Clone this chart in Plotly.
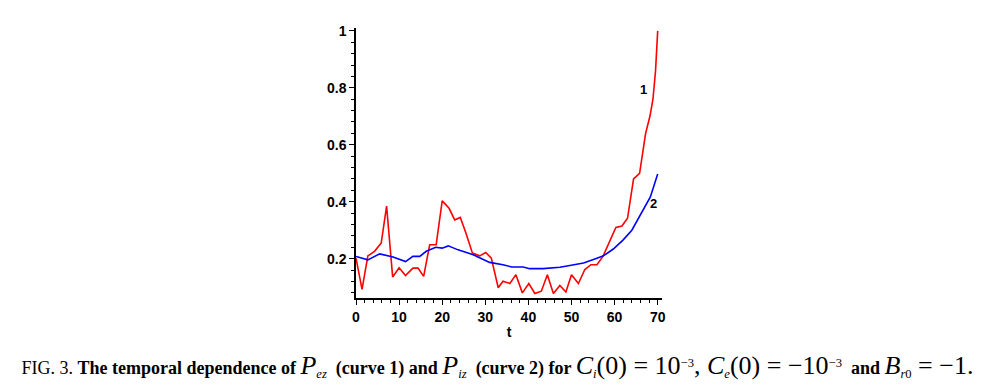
import plotly.graph_objects as go

red_t = [0, 1.4, 2.75, 4.3, 5.85, 7.1, 8.5, 10.0, 11.5, 13.2, 14.4, 15.7, 17.1, 18.6, 20.0,
         21.6, 22.9, 24.2, 25.5, 27.0, 28.7, 30.1, 31.4, 33.0, 34.1, 35.7, 37.1, 38.6,
         40.1, 41.5, 43.0, 44.4, 45.8, 47.3, 48.7, 50.0, 51.6, 53.1, 54.5, 55.9, 57.3,
         58.8, 60.3, 61.7, 63.0, 64.4, 65.8, 67.2, 68.2, 68.9, 69.5, 70.0]
red_v = [0.202, 0.092, 0.21, 0.226, 0.255, 0.385, 0.136, 0.168, 0.141, 0.167, 0.167, 0.138,
         0.249, 0.249, 0.403, 0.377, 0.336, 0.345, 0.29, 0.22, 0.21, 0.222, 0.202, 0.098,
         0.121, 0.113, 0.144, 0.08, 0.113, 0.078, 0.086, 0.144, 0.078, 0.106, 0.083, 0.144,
         0.113, 0.162, 0.179, 0.179, 0.208, 0.26, 0.31, 0.315, 0.342, 0.48, 0.50, 0.64,
         0.70, 0.76, 0.86, 1.0]

blue_t = [0, 2.75, 5.5, 8.6, 11.5, 13.2, 14.8, 16.3, 18.5, 20.0, 21.4, 23.7, 27.2, 31.0,
          34.1, 36.1, 38.8, 40.3, 43.4, 47.3, 49.6, 52.8, 55.9, 57.4, 59.7, 62.0, 64.0,
          66.0, 68.3, 70.0]
blue_v = [0.208, 0.196, 0.217, 0.206, 0.19, 0.208, 0.208, 0.226, 0.24, 0.237, 0.245, 0.231,
          0.214, 0.187, 0.179, 0.171, 0.171, 0.165, 0.165, 0.17, 0.176, 0.185, 0.202, 0.21,
          0.234, 0.266, 0.3, 0.353, 0.417, 0.497]

x_ticks = [0, 10, 20, 30, 40, 50, 60, 70]
y_ticks = [0.2, 0.4, 0.6, 0.8, 1]
y_tick_text = ["0.2", "0.4", "0.6", "0.8", "1"]

curve_labels = ["1", "2"]
label_t = [66.6, 69.1]
label_v = [0.795, 0.395]

fig = go.Figure()
fig.add_trace(go.Scatter(x=red_t, y=red_v, mode="lines",
                         line=dict(color="#ff0000", width=1.6), showlegend=False))
fig.add_trace(go.Scatter(x=blue_t, y=blue_v, mode="lines",
                         line=dict(color="#0000ff", width=1.6), showlegend=False))

for lab, tx, vy in zip(curve_labels, label_t, label_v):
    fig.add_annotation(x=tx, y=vy, text="<b>" + lab + "</b>", showarrow=False,
                       font=dict(family="Liberation Sans", size=13, color="black"))

M = "<span style='font-size:26px'>"
caption = ("FIG. 3. <b>The temporal dependence of </b>"
           + M + "<i>P</i></span><sub><i>ez</i></sub>"
           "<b>  (curve 1) and </b>"
           + M + "<i>P</i></span><sub><i>iz</i></sub>"
           "<b>  (curve 2) for </b>"
           + M + "<i>C</i></span><sub><i>i</i></sub>"
           + M + "(0) = 10</span><sup>−3</sup>"
           + M + ", </span>"
           + M + "<i>C</i></span><sub><i>e</i></sub>"
           + M + "(0) = −10</span><sup>−3</sup>"
           "<b>  and </b>"
           + M + "<i>B</i></span><sub><i>r</i>0</sub>"
           + M + " = −1.</span>")

fig.update_layout(
    width=987, height=388,
    margin=dict(l=356, r=325, t=28, b=90),
    paper_bgcolor="white", plot_bgcolor="white",
    title=dict(text=caption, x=0.504, xref="container", xanchor="center",
               y=0.052, yref="container", yanchor="middle", automargin=False,
               font=dict(family="Liberation Serif", size=18, color="black")),
    xaxis=dict(range=[0, 71], showgrid=False, zeroline=False, showline=True, automargin=False,
               linecolor="black", linewidth=1.5, ticks="outside", ticklen=5,
               tickcolor="black", tickvals=x_ticks,
               minor=dict(dtick=2, tick0=0, ticks="outside", ticklen=3, tickcolor="black"),
               tickfont=dict(family="Liberation Sans", size=14, color="black", weight="bold"),
               title=dict(text="<b>t</b>", standoff=4,
                          font=dict(family="Liberation Sans", size=14, color="black"))),
    yaxis=dict(range=[0.062, 1.01], showgrid=False, zeroline=False, showline=True, automargin=False,
               linecolor="black", linewidth=1.5, ticks="outside", ticklen=5,
               tickcolor="black", tickvals=y_ticks, ticktext=y_tick_text,
               minor=dict(dtick=0.04, tick0=0, ticks="outside", ticklen=3, tickcolor="black"),
               tickfont=dict(family="Liberation Sans", size=14, color="black", weight="bold")),
)

fig.write_html("out.html", config={"displayModeBar": False},
               post_script="document.body.style.margin='0px';")
